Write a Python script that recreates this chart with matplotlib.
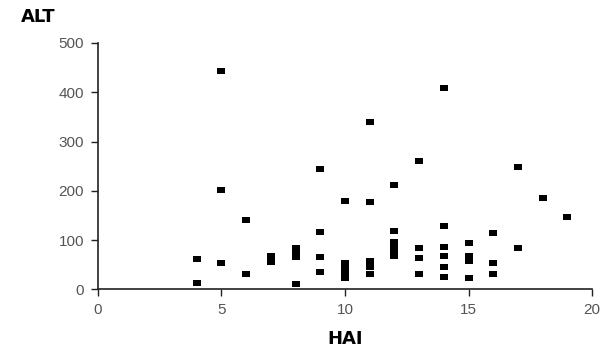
import numpy as np
import matplotlib
matplotlib.use("Agg")
import matplotlib.pyplot as plt

# HAI score vs ALT
hai = [4, 4,
       5, 5, 5,
       6, 6,
       7, 7,
       8, 8, 8, 8,
       9, 9, 9, 9,
       10, 10, 10, 10, 10, 10, 10,
       11, 11, 11, 11, 11,
       12, 12, 12, 12, 12, 12,
       13, 13, 13, 13,
       14, 14, 14, 14, 14, 14,
       15, 15, 15, 15,
       16, 16, 16,
       17, 17,
       18,
       19]
alt = [62, 13,
       443, 202, 54,
       141, 31,
       68, 56,
       83, 72, 65, 11,
       245, 117, 66, 35,
       179, 54, 48, 42, 36, 30, 24,
       339, 177, 58, 45, 32,
       212, 118, 96, 86, 76, 67,
       260, 84, 64, 31,
       409, 129, 86, 68, 46, 26,
       94, 67, 57, 23,
       114, 54, 31,
       248, 84,
       186,
       147]

# slightly wide rectangle like the printed marks
box = [(-1, -0.78), (1, -0.78), (1, 0.78), (-1, 0.78), (-1, -0.78)]

fig = plt.figure(figsize=(6.08, 3.52), dpi=100)
ax = fig.add_axes([0.161, 0.178, 0.813, 0.700])

ax.scatter(hai, alt, marker=box, s=26, color="black", linewidths=0, zorder=3)

ax.set_xlim(0, 20)
ax.set_ylim(0, 500)
ax.set_xticks(np.arange(0, 21, 5))
ax.set_yticks(np.arange(0, 501, 100))

for side in ["top", "right"]:
    ax.spines[side].set_visible(False)
for side in ["left", "bottom"]:
    ax.spines[side].set_linewidth(1.2)
    ax.spines[side].set_color("#222222")

ax.tick_params(direction="out", length=5, width=1, colors="#222222",
               labelsize=11, labelcolor="#555555", pad=5)
for lbl in ax.get_xticklabels() + ax.get_yticklabels():
    lbl.set_fontfamily("Liberation Sans")

fig.text(0.0625, 0.952, "ALT", fontsize=13, fontweight="bold", ha="center", va="center")
fig.text(0.567, 0.036, "HAI", fontsize=13, fontweight="bold", ha="center", va="center")

fig.savefig("out.png", dpi=100)
